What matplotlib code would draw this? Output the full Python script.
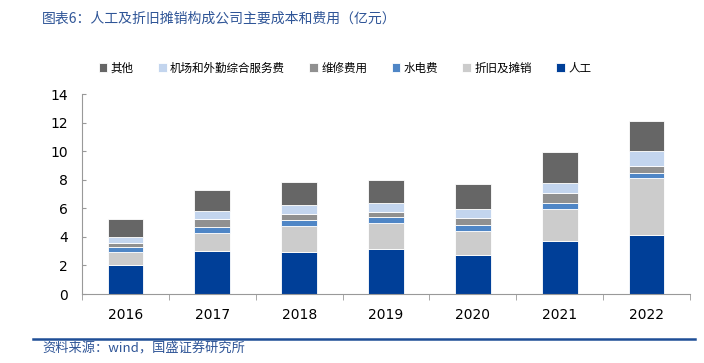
import matplotlib
matplotlib.use("agg")
import matplotlib.pyplot as plt
import numpy as np

plt.rcParams['font.family'] = ['Noto Sans CJK SC', 'DejaVu Sans']

# data (亿元)
years = ['2016', '2017', '2018', '2019', '2020', '2021', '2022']
labor = [2.01, 3.03, 2.96, 3.14, 2.71, 3.72, 4.16]        # 人工
depreciation = [0.93, 1.25, 1.80, 1.81, 1.73, 2.20, 3.98]  # 折旧及摊销
utilities = [0.34, 0.39, 0.40, 0.44, 0.39, 0.46, 0.35]     # 水电费
repair = [0.26, 0.56, 0.44, 0.32, 0.51, 0.72, 0.48]        # 维修费用
services = [0.48, 0.57, 0.62, 0.67, 0.63, 0.67, 1.04]      # 机场和外勤综合服务费
other = [1.25, 1.46, 1.62, 1.62, 1.75, 2.17, 2.11]         # 其他

series = [
    ('人工', labor, '#003f98'),
    ('折旧及摊销', depreciation, '#cccccc'),
    ('水电费', utilities, '#4f86c6'),
    ('维修费用', repair, '#909090'),
    ('机场和外勤综合服务费', services, '#c3d5ee'),
    ('其他', other, '#666666'),
]

fig = plt.figure(figsize=(7.04, 3.63), dpi=100)
ax = fig.add_axes([82/704, 1-294/363, 608/704, 200/363])

x = np.arange(len(years))
bottom = np.zeros(len(years))
handles = []
for name, vals, col in series:
    h = ax.bar(x, vals, 0.41, bottom=bottom, color=col, edgecolor='white',
               linewidth=0.6, label=name)
    handles.append(h)
    bottom += np.array(vals)

ax.set_xlim(-0.5, len(years) - 0.5)
ax.set_ylim(0, 14)
ax.set_yticks(range(0, 15, 2))
ax.set_xticks(x)
ax.set_xticklabels(years)
ax.set_xticks(np.arange(-0.5, len(years)), minor=True)
ax.tick_params(axis='x', which='major', length=0, pad=10, labelsize=10)
ax.tick_params(axis='x', which='minor', length=4, direction='out', color='#999999')
ax.tick_params(axis='y', length=3, direction='in', color='#999999', labelsize=10, pad=10)
for lbl in ax.get_xticklabels() + ax.get_yticklabels():
    lbl.set_family('DejaVu Sans')
for s in ['top', 'right']:
    ax.spines[s].set_visible(False)
for s in ['left', 'bottom']:
    ax.spines[s].set_color('#999999')
    ax.spines[s].set_linewidth(0.8)

leg = fig.legend(handles[::-1], [s[0] for s in series][::-1], loc='center',
                 bbox_to_anchor=(0.49, 1-68/363), ncol=6, frameon=False,
                 fontsize=8.3, handlelength=0.75, handleheight=0.75,
                 handletextpad=0.3, columnspacing=2.1)

blue = '#2f5597'
fig.text(42/704, 1-19/363, '图表6：人工及折旧摊销构成公司主要成本和费用（亿元）',
         color=blue, fontsize=10, style='italic', va='center')
fig.add_artist(plt.Line2D([33/704, 695/704], [1-339/363, 1-339/363],
                          color='#1f4e96', linewidth=1.8))
fig.text(42/704, 1-349/363, '资料来源：wind，国盛证券研究所', color=blue,
         fontsize=9.5, style='italic', va='center')

plt.savefig('out.png', dpi=100)
plt.close()
